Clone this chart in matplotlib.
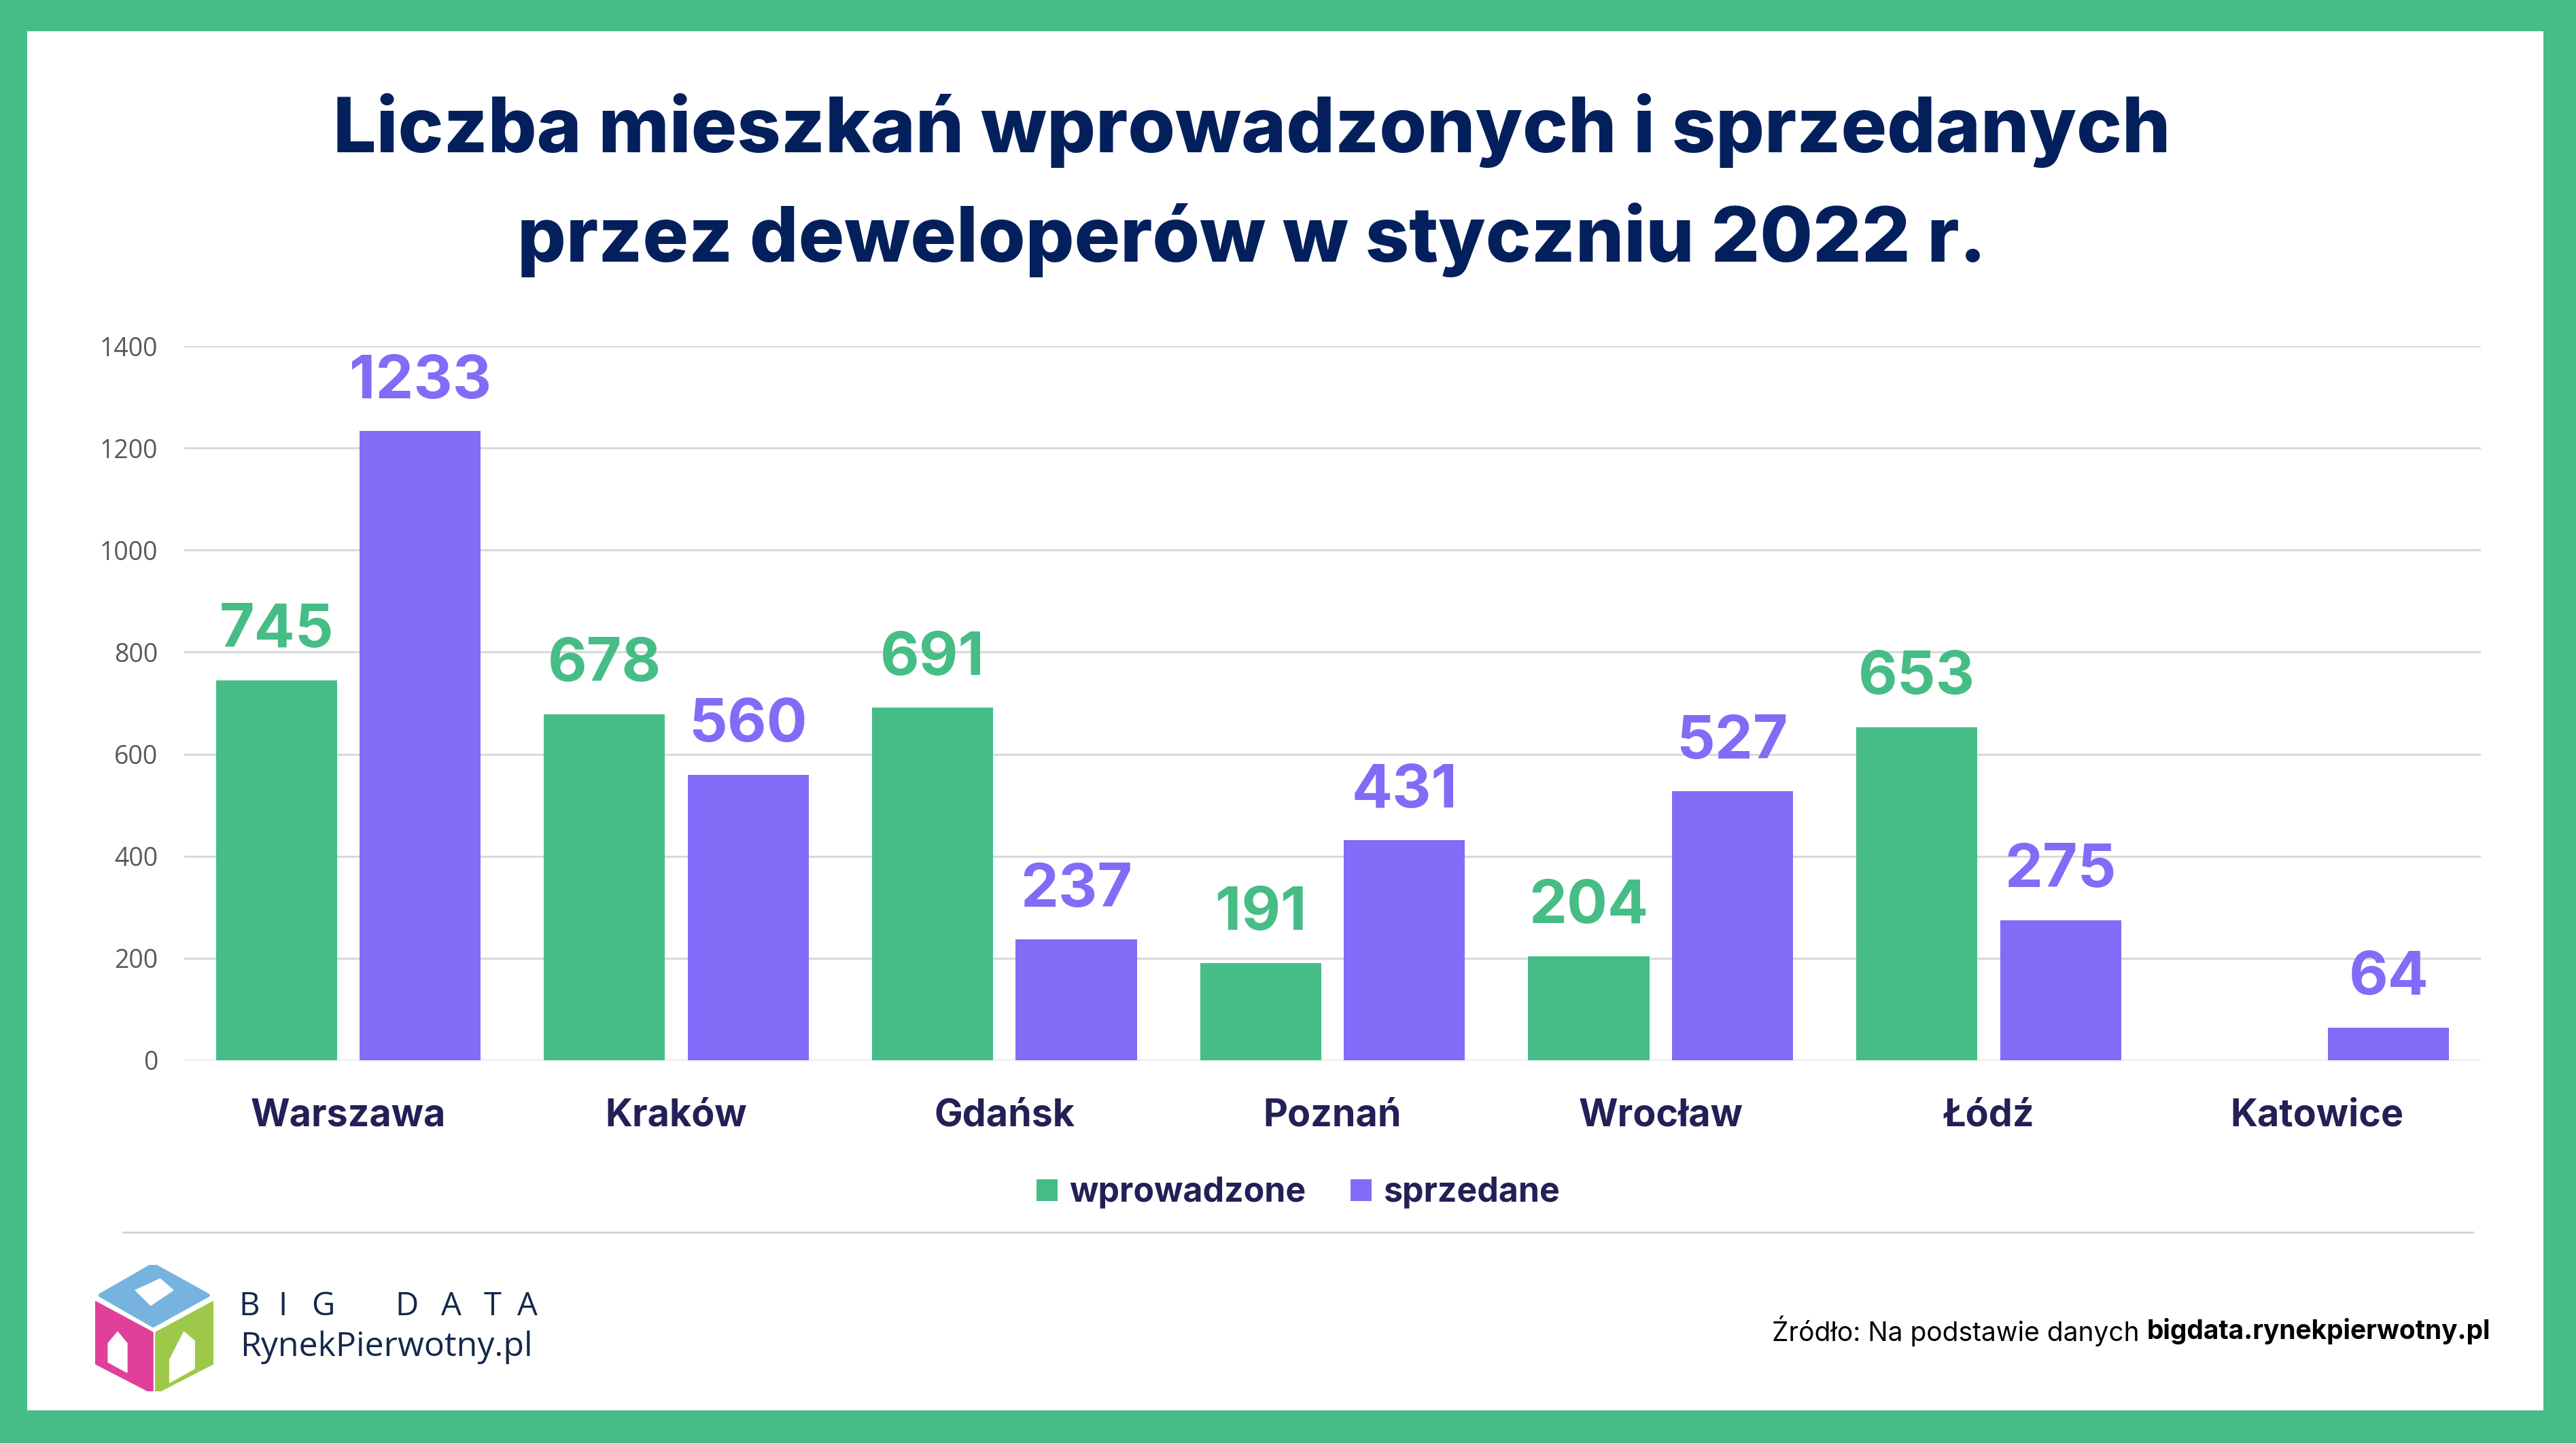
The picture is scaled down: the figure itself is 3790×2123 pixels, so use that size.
import matplotlib.pyplot as plt
from matplotlib.patches import Polygon
from matplotlib.lines import Line2D

# data
cities = ['Warszawa', 'Kraków', 'Gdańsk', 'Poznań', 'Wrocław', 'Łódź', 'Katowice']
wprowadzone = [745, 678, 691, 191, 204, 653, None]
sprzedane = [1233, 560, 237, 431, 527, 275, 64]
yticks = [0, 200, 400, 600, 800, 1000, 1200, 1400]

GREEN = '#46BD86'
PURPLE = '#836BF7'
NAVY = '#03205C'
DARK = '#232057'

W, H = 3790, 2123
fig = plt.figure(figsize=(W / 100, H / 100), dpi=100)
fig.patch.set_facecolor(GREEN)

# white card inside green frame
card = fig.add_axes([40 / W, 48 / H, (3742 - 40) / W, (2077 - 48) / H])
card.set_facecolor('white')
card.set_xticks([])
card.set_yticks([])
for s in card.spines.values():
    s.set_visible(False)
card.set_zorder(0)

# title
fig.text(1842 / W, 1 - 192 / H, 'Liczba mieszkań wprowadzonych i sprzedanych',
         ha='center', va='center', fontsize=81, fontweight='heavy',
         family='Inter', color=NAVY)
fig.text(1842 / W, 1 - 353 / H, 'przez deweloperów w styczniu 2022 r.',
         ha='center', va='center', fontsize=81, fontweight='heavy',
         family='Inter', color=NAVY)

# chart
ax = fig.add_axes([271 / W, 1 - 1560 / H, (3650 - 271) / W, (1560 - 509) / H])
ax.set_facecolor('none')
x = list(range(len(cities)))
bw = 0.369
off = 0.219
g_vals = [v if v is not None else 0 for v in wprowadzone]
b1 = ax.bar([i - off for i in x], g_vals, width=bw, color=GREEN, zorder=3,
            label='wprowadzone')
b2 = ax.bar([i + off for i in x], sprzedane, width=bw, color=PURPLE, zorder=3,
            label='sprzedane')
ax.bar_label(b1, labels=['' if v is None else str(v) for v in wprowadzone],
             padding=22, fontsize=64, fontweight='bold', family='Inter', color=GREEN)
ax.bar_label(b2, labels=[str(v) for v in sprzedane],
             padding=22, fontsize=64, fontweight='bold', family='Inter', color=PURPLE)

ax.set_xlim(-0.5, len(cities) - 0.5)
ax.set_ylim(0, 1400)
ax.set_yticks(yticks)
ax.set_yticklabels([str(t) for t in yticks], fontsize=27, color='#595959',
                   family='Open Sans')
ax.set_xticks(x)
ax.set_xticklabels(cities, fontsize=40, fontweight='bold', family='Inter', color=DARK)
ax.tick_params(axis='y', length=0, pad=28)
ax.tick_params(axis='x', length=0, pad=40)
ax.grid(axis='y', color='#D9D9D9', linewidth=2.2, zorder=0)
for s in ax.spines.values():
    s.set_visible(False)

leg = fig.legend(handles=[b1, b2], loc='center', bbox_to_anchor=(1910 / W, 1 - 1755 / H),
                 ncol=2, frameon=False, handlelength=0.62, handleheight=0.62,
                 handletextpad=0.35, columnspacing=1.3,
                 prop={'family': 'Inter', 'weight': 'bold', 'size': 36})
for t in leg.get_texts():
    t.set_color(DARK)

# separator line
fig.add_artist(Line2D([181 / W, 3638 / W], [1 - 1813 / H, 1 - 1813 / H],
                      color='#D4D4D4', linewidth=2.2))

# source
src = fig.text(3664 / W, 1 - 1958 / H, 'bigdata.rynekpierwotny.pl', ha='right',
               va='center', fontsize=28, fontweight='bold', family='Inter',
               color='black')
ax.annotate('Źródło: Na podstawie danych ', xy=(0, 0.5), xycoords=src,
            ha='right', va='center', fontsize=28, family='Inter', color='black',
            annotation_clip=False)

# logo cube
logo = fig.add_axes([140 / W, 1 - 2047 / H, 174 / W, 186 / H])
logo.set_xlim(0, 1)
logo.set_ylim(1, 0)
logo.axis('off')
faces = [
    ([(0.49, 0.0), (0.043, 0.24), (0.49, 0.48), (0.954, 0.24)], '#77B3DF'),
    ([(0.0, 0.30), (0.477, 0.54), (0.477, 1.0), (0.0, 0.77)], '#E0409A'),
    ([(0.523, 0.54), (1.0, 0.30), (1.0, 0.77), (0.523, 1.0)], '#9DC84A'),
]
for pts, c in faces:
    logo.add_patch(Polygon(pts, closed=True, facecolor=c, edgecolor=c,
                           linewidth=4, joinstyle='round'))
houses = [
    [(0.11, 0.62), (0.19, 0.53), (0.27, 0.62), (0.27, 0.85), (0.11, 0.77)],
    [(0.63, 0.75), (0.75, 0.53), (0.84, 0.60), (0.84, 0.82), (0.63, 0.93)],
    [(0.34, 0.20), (0.55, 0.11), (0.66, 0.20), (0.47, 0.32)],
]
for pts in houses:
    logo.add_patch(Polygon(pts, closed=True, facecolor='white', edgecolor='white'))

for ch, px in zip('BIGDATA', [367, 416, 475, 598, 664, 725, 776]):
    fig.text(px / W, 1 - 1922 / H, ch, ha='center', va='center', fontsize=34,
             family='Open Sans', color='#14284B')
fig.text(353 / W, 1 - 1982 / H, 'RynekPierwotny.pl', ha='left', va='center',
         fontsize=36, family='Open Sans', color='#14284B')

fig.savefig('out.png', dpi=100, facecolor=fig.get_facecolor())
